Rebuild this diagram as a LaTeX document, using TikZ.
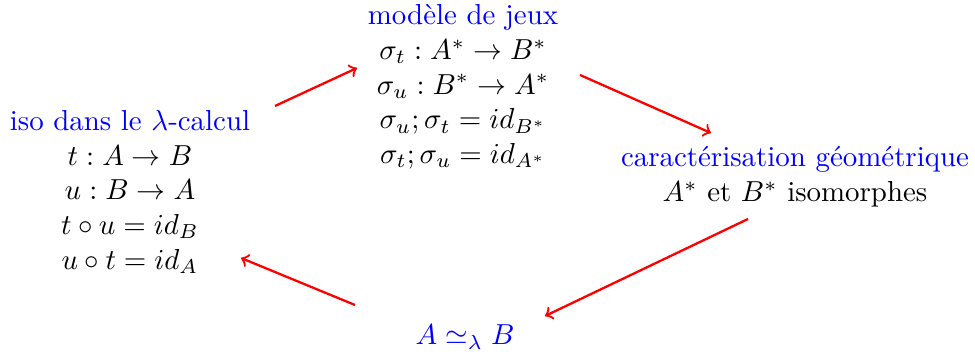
\documentclass[tikz,border=0pt]{standalone}
\usepackage{amssymb}
\begin{document}
\begin{tikzpicture}[x=0.346pt,y=-0.346pt,
  blk/.style={align=center,inner sep=0pt},
  ttl/.style={text=blue},
  arr/.style={->,draw=red,thick}]
\useasboundingbox (0,0) rectangle (975,358);
\node[blk] (iso) at (130,192) {\textcolor{blue}{iso dans le $\lambda$-calcul}\\ $t:A\to B$\\ $u:B\to A$\\ $t\circ u=id_B$\\ $u\circ t=id_A$};
\node[blk] (jeux) at (463,87) {\textcolor{blue}{mod\`ele de jeux}\\ $\sigma_t:A^*\to B^*$\\ $\sigma_u:B^*\to A^*$\\ $\sigma_u;\sigma_t=id_{B^*}$\\ $\sigma_t;\sigma_u=id_{A^*}$};
\node[blk] (geo) at (795,177) {\textcolor{blue}{caract\'erisation g\'eom\'etrique}\\ $A^*$ et $B^*$ isomorphes};
\node[blk,text=blue] (iso2) at (465,337) {$A\simeq_\lambda B$};
\coordinate (a1s) at (275,106); \coordinate (a1e) at (357,68);
\coordinate (a2s) at (580,75); \coordinate (a2e) at (711,133);
\coordinate (a3s) at (748,219); \coordinate (a3e) at (545,316);
\coordinate (a4s) at (355,305); \coordinate (a4e) at (241,258);
\draw[arr] (a1s) -- (a1e);
\draw[arr] (a2s) -- (a2e);
\draw[arr] (a3s) -- (a3e);
\draw[arr] (a4s) -- (a4e);
\end{tikzpicture}
\end{document}
